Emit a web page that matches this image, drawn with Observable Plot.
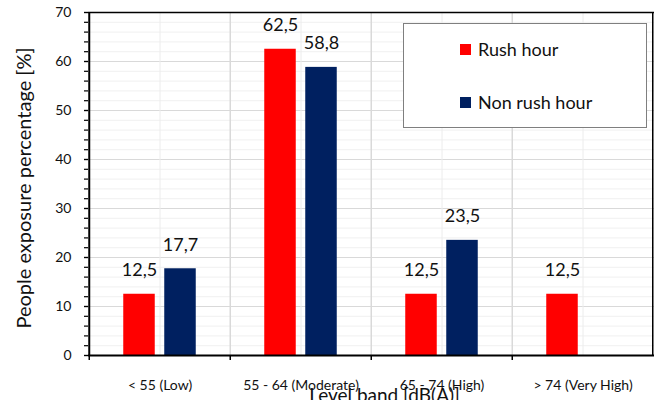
<!DOCTYPE html>
<html>
<head>
<meta charset="utf-8">
<script src="https://cdn.jsdelivr.net/npm/d3@7"></script>
<script src="https://cdn.jsdelivr.net/npm/@observablehq/plot@0.6"></script>
<style>
  html, body { margin: 0; padding: 0; background: #fff; }
  #wrap { position: relative; width: 656px; height: 400px; overflow: hidden; font-family: Lato, "Open Sans", sans-serif; }
  #legend { position: absolute; left: 403px; top: 23px; width: 244px; height: 105px; border: 1px solid #7f7f7f; background: #fff; box-sizing: border-box; }
  .item { position: absolute; left: 56px; display: flex; align-items: center; font-size: 18px; color: #111; }
  .sw { width: 11px; height: 11px; margin-right: 7px; }
</style>
</head>
<body>
<div id="wrap"></div>
<script>
const categories = ["< 55 (Low)", "55 - 64 (Moderate)", "65 - 74 (High)", "> 74 (Very High)"];
const seriesNames = ["Rush hour", "Non rush hour"];
const rushHour = [12.5, 62.5, 12.5, 12.5];
const nonRushHour = [17.7, 58.8, 23.5, 0];
const colors = ["#ff0000", "#002060"];
const yMajorTicks = [0, 10, 20, 30, 40, 50, 60, 70];

const W = 656, H = 400, mL = 88, mR = 2, mT = 12, mB = 45;
const step = (W - mL - mR) / categories.length;
const barW = 32, off = 20.5;
const inset = (step - barW) / 2;

const rows = [];
categories.forEach((c, i) => {
  rows.push({cat: c, series: seriesNames[0], value: rushHour[i]});
  rows.push({cat: c, series: seriesNames[1], value: nonRushHour[i]});
});
const rushRows = rows.filter(d => d.series === seriesNames[0]);
const nonRows = rows.filter(d => d.series === seriesNames[1]);
const fmt = v => d3.format(".1f")(v).replace(".", ",");

const minorY = d3.range(0, 71, 2);

const plot = Plot.plot({
  width: W, height: H,
  marginLeft: mL, marginRight: mR, marginTop: mT, marginBottom: mB,
  style: {fontFamily: "Lato, 'Open Sans', sans-serif", background: "#fff"},
  x: {domain: categories, padding: 0, label: null},
  y: {domain: [0, 70], label: null},
  marks: [
    Plot.ruleY(minorY, {stroke: "#f0f0f0", strokeWidth: 1}),
    Plot.ruleY(yMajorTicks, {stroke: "#d9d9d9", strokeWidth: 1}),
    Plot.ruleX(categories, {x: d => d, stroke: "#ececec", strokeWidth: 1}),
    Plot.ruleX(categories.slice(1), {x: d => d, dx: -step / 2, stroke: "#d9d9d9", strokeWidth: 1.5}),
    Plot.barY(rushRows, {x: "cat", y: "value", fill: colors[0], insetLeft: inset, insetRight: inset, dx: -off}),
    Plot.barY(nonRows, {x: "cat", y: "value", fill: colors[1], insetLeft: inset, insetRight: inset, dx: off}),
    Plot.text(rushRows.filter(d => d.value > 0), {x: "cat", y: "value", text: d => fmt(d.value), dx: -off, dy: -24, fontSize: 18, fill: "#111"}),
    Plot.text(nonRows.filter(d => d.value > 0), {x: "cat", y: "value", text: d => fmt(d.value), dx: off, dy: -24, fontSize: 18, fill: "#111"}),
    Plot.axisY(minorY, {tickSize: 4, tickFormat: () => "", stroke: "#000", strokeWidth: 1.2}),
    Plot.axisY(yMajorTicks, {tickSize: 4, tickPadding: 13, fontSize: 14, fill: "#111", stroke: "#000", strokeWidth: 1.2, label: null}),
    Plot.axisX({tickSize: 0, tickPadding: 25, fontSize: 14, fill: "#111", label: null}),
    Plot.ruleX(categories, {x: d => d, dx: -step / 2, y1: 0, y2: 0, stroke: "#000", insetBottom: -5, strokeWidth: 1.5}),
    Plot.ruleX([categories[categories.length - 1]], {x: d => d, dx: step / 2 - 1, stroke: "#000", strokeWidth: 1.5}),
    Plot.ruleY([70], {stroke: "#000", strokeWidth: 1.5}),
    Plot.ruleY([0], {stroke: "#000", strokeWidth: 2}),
    Plot.ruleX([categories[0]], {x: d => d, dx: -step / 2, stroke: "#000", strokeWidth: 2}),
    Plot.text(["Level band [dB(A)]"], {frameAnchor: "bottom", dx: 13, dy: 33, lineAnchor: "top", fontSize: 19, fill: "#111"}),
    Plot.text(["People exposure percentage [%]"], {frameAnchor: "left", textAnchor: "middle", dx: -64, dy: 4, rotate: -90, fontSize: 20, fill: "#111"})
  ]
});

const wrap = document.getElementById("wrap");
wrap.appendChild(plot);
const legend = document.createElement("div");
legend.id = "legend";
seriesNames.forEach((s, i) => {
  const it = document.createElement("div");
  it.className = "item";
  it.style.top = (i === 0 ? 14 : 67) + "px";
  const sw = document.createElement("div");
  sw.className = "sw";
  sw.style.background = colors[i];
  const t = document.createElement("span");
  t.textContent = s;
  it.appendChild(sw);
  it.appendChild(t);
  legend.appendChild(it);
});
wrap.appendChild(legend);
</script>
</body>
</html>
